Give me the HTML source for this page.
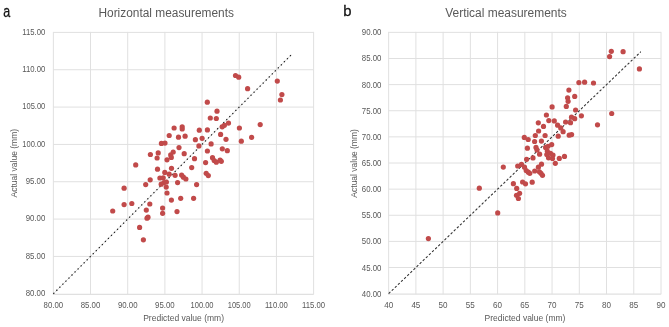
<!DOCTYPE html>
<html><head><meta charset="utf-8"><style>
html,body{margin:0;padding:0;background:#fff;}
body{width:669px;height:327px;overflow:hidden;}
svg{display:block;will-change:transform;}
</style></head><body>
<svg width="669" height="327" viewBox="0 0 669 327">
<rect width="669" height="327" fill="#fff"/>
<g stroke="#e0e0e0" stroke-width="1" fill="none">
<line x1="53.35" y1="31.9" x2="53.35" y2="294.35"/>
<line x1="90.53" y1="31.9" x2="90.53" y2="294.35"/>
<line x1="127.71" y1="31.9" x2="127.71" y2="294.35"/>
<line x1="164.89" y1="31.9" x2="164.89" y2="294.35"/>
<line x1="202.06" y1="31.9" x2="202.06" y2="294.35"/>
<line x1="239.24" y1="31.9" x2="239.24" y2="294.35"/>
<line x1="276.42" y1="31.9" x2="276.42" y2="294.35"/>
<line x1="313.6" y1="31.9" x2="313.6" y2="294.35"/>
<line x1="53.35" y1="32.4" x2="313.6" y2="32.4"/>
<line x1="53.35" y1="69.74" x2="313.6" y2="69.74"/>
<line x1="53.35" y1="107.07" x2="313.6" y2="107.07"/>
<line x1="53.35" y1="144.41" x2="313.6" y2="144.41"/>
<line x1="53.35" y1="181.74" x2="313.6" y2="181.74"/>
<line x1="53.35" y1="219.08" x2="313.6" y2="219.08"/>
<line x1="53.35" y1="256.41" x2="313.6" y2="256.41"/>
<line x1="52.85" y1="294.3" x2="313.7" y2="294.3" stroke-width="1.3"/>
<line x1="388.65" y1="31.85" x2="388.65" y2="294.25"/>
<line x1="415.88" y1="31.85" x2="415.88" y2="294.25"/>
<line x1="443.12" y1="31.85" x2="443.12" y2="294.25"/>
<line x1="470.36" y1="31.85" x2="470.36" y2="294.25"/>
<line x1="497.59" y1="31.85" x2="497.59" y2="294.25"/>
<line x1="524.83" y1="31.85" x2="524.83" y2="294.25"/>
<line x1="552.06" y1="31.85" x2="552.06" y2="294.25"/>
<line x1="579.3" y1="31.85" x2="579.3" y2="294.25"/>
<line x1="606.53" y1="31.85" x2="606.53" y2="294.25"/>
<line x1="633.76" y1="31.85" x2="633.76" y2="294.25"/>
<line x1="661" y1="31.85" x2="661" y2="294.25"/>
<line x1="388.65" y1="32.35" x2="661" y2="32.35"/>
<line x1="388.65" y1="58.48" x2="661" y2="58.48"/>
<line x1="388.65" y1="84.61" x2="661" y2="84.61"/>
<line x1="388.65" y1="110.74" x2="661" y2="110.74"/>
<line x1="388.65" y1="136.87" x2="661" y2="136.87"/>
<line x1="388.65" y1="163" x2="661" y2="163"/>
<line x1="388.65" y1="189.13" x2="661" y2="189.13"/>
<line x1="388.65" y1="215.26" x2="661" y2="215.26"/>
<line x1="388.65" y1="241.39" x2="661" y2="241.39"/>
<line x1="388.65" y1="267.52" x2="661" y2="267.52"/>
<line x1="388.15" y1="294.2" x2="661.1" y2="294.2" stroke-width="1.3"/>
</g>
<g stroke="#2a2a2a" fill="none">
<line x1="53.35" y1="293.75" x2="291.29" y2="54.8" stroke-width="0.7" stroke="#c8c8c8"/>
<line x1="53.35" y1="293.75" x2="291.29" y2="54.8" stroke-width="1.2" stroke="#1a1a1a" stroke-dasharray="1.3 3.0"/>
<line x1="388.65" y1="293.65" x2="640.85" y2="51.69" stroke-width="1.05" stroke="#2e2e2e" stroke-dasharray="2.4 1.9"/>
</g>
<g fill="#c14a4a">
<circle cx="235.5" cy="75.5" r="2.6"/>
<circle cx="238.7" cy="77.2" r="2.6"/>
<circle cx="247.6" cy="88.7" r="2.6"/>
<circle cx="277.3" cy="81.1" r="2.6"/>
<circle cx="281.9" cy="94.6" r="2.6"/>
<circle cx="280.4" cy="100.0" r="2.6"/>
<circle cx="207.3" cy="102.2" r="2.6"/>
<circle cx="217.0" cy="111.2" r="2.6"/>
<circle cx="210.3" cy="118.0" r="2.6"/>
<circle cx="216.3" cy="118.5" r="2.6"/>
<circle cx="228.5" cy="123.1" r="2.6"/>
<circle cx="224.4" cy="125.3" r="2.6"/>
<circle cx="222.2" cy="126.8" r="2.6"/>
<circle cx="260.2" cy="124.6" r="2.6"/>
<circle cx="239.4" cy="128.0" r="2.6"/>
<circle cx="174.1" cy="128.0" r="2.6"/>
<circle cx="182.2" cy="126.8" r="2.6"/>
<circle cx="182.2" cy="129.0" r="2.6"/>
<circle cx="199.3" cy="130.2" r="2.6"/>
<circle cx="207.4" cy="129.9" r="2.6"/>
<circle cx="169.2" cy="135.5" r="2.6"/>
<circle cx="178.5" cy="137.2" r="2.6"/>
<circle cx="185.1" cy="136.2" r="2.6"/>
<circle cx="220.6" cy="134.4" r="2.6"/>
<circle cx="251.6" cy="137.3" r="2.6"/>
<circle cx="195.4" cy="139.7" r="2.6"/>
<circle cx="202.1" cy="138.3" r="2.6"/>
<circle cx="226.0" cy="139.3" r="2.6"/>
<circle cx="241.3" cy="141.2" r="2.6"/>
<circle cx="161.4" cy="143.4" r="2.6"/>
<circle cx="165.0" cy="143.1" r="2.6"/>
<circle cx="198.9" cy="145.9" r="2.6"/>
<circle cx="211.1" cy="143.9" r="2.6"/>
<circle cx="179.0" cy="147.6" r="2.6"/>
<circle cx="207.4" cy="151.0" r="2.6"/>
<circle cx="222.3" cy="148.8" r="2.6"/>
<circle cx="227.3" cy="150.7" r="2.6"/>
<circle cx="150.4" cy="154.5" r="2.6"/>
<circle cx="158.2" cy="152.9" r="2.6"/>
<circle cx="173.2" cy="152.0" r="2.6"/>
<circle cx="170.7" cy="154.9" r="2.6"/>
<circle cx="171.3" cy="157.4" r="2.6"/>
<circle cx="184.2" cy="153.7" r="2.6"/>
<circle cx="157.1" cy="158.0" r="2.6"/>
<circle cx="167.0" cy="159.8" r="2.6"/>
<circle cx="194.5" cy="158.7" r="2.6"/>
<circle cx="212.5" cy="157.7" r="2.6"/>
<circle cx="214.2" cy="160.5" r="2.6"/>
<circle cx="216.3" cy="162.2" r="2.6"/>
<circle cx="220.1" cy="160.1" r="2.6"/>
<circle cx="221.3" cy="161.3" r="2.6"/>
<circle cx="205.6" cy="162.6" r="2.6"/>
<circle cx="135.7" cy="164.9" r="2.6"/>
<circle cx="157.5" cy="169.2" r="2.6"/>
<circle cx="171.5" cy="168.3" r="2.6"/>
<circle cx="191.7" cy="167.6" r="2.6"/>
<circle cx="164.8" cy="172.4" r="2.6"/>
<circle cx="169.2" cy="174.2" r="2.6"/>
<circle cx="175.1" cy="175.3" r="2.6"/>
<circle cx="181.6" cy="175.1" r="2.6"/>
<circle cx="183.4" cy="177.2" r="2.6"/>
<circle cx="185.9" cy="179.0" r="2.6"/>
<circle cx="159.9" cy="178.0" r="2.6"/>
<circle cx="163.2" cy="177.8" r="2.6"/>
<circle cx="150.2" cy="179.8" r="2.6"/>
<circle cx="161.2" cy="184.2" r="2.6"/>
<circle cx="164.0" cy="182.5" r="2.6"/>
<circle cx="166.4" cy="182.0" r="2.6"/>
<circle cx="177.6" cy="182.6" r="2.6"/>
<circle cx="145.7" cy="184.6" r="2.6"/>
<circle cx="196.6" cy="184.6" r="2.6"/>
<circle cx="166.2" cy="187.1" r="2.6"/>
<circle cx="124.1" cy="188.2" r="2.6"/>
<circle cx="167.0" cy="193.0" r="2.6"/>
<circle cx="171.4" cy="200.1" r="2.6"/>
<circle cx="180.7" cy="198.3" r="2.6"/>
<circle cx="193.6" cy="198.3" r="2.6"/>
<circle cx="124.1" cy="204.6" r="2.6"/>
<circle cx="131.8" cy="203.5" r="2.6"/>
<circle cx="149.8" cy="204.0" r="2.6"/>
<circle cx="162.6" cy="208.1" r="2.6"/>
<circle cx="162.6" cy="213.3" r="2.6"/>
<circle cx="177.0" cy="211.6" r="2.6"/>
<circle cx="112.7" cy="211.0" r="2.6"/>
<circle cx="146.3" cy="210.1" r="2.6"/>
<circle cx="147.0" cy="218.2" r="2.6"/>
<circle cx="148.0" cy="217.2" r="2.6"/>
<circle cx="139.6" cy="227.4" r="2.6"/>
<circle cx="143.4" cy="239.8" r="2.6"/>
<circle cx="206.2" cy="173.3" r="2.6"/>
<circle cx="208.3" cy="175.6" r="2.6"/>
<circle cx="611.3" cy="51.3" r="2.6"/>
<circle cx="623.1" cy="51.7" r="2.6"/>
<circle cx="609.6" cy="56.6" r="2.6"/>
<circle cx="639.4" cy="68.9" r="2.6"/>
<circle cx="578.9" cy="82.6" r="2.6"/>
<circle cx="584.6" cy="82.2" r="2.6"/>
<circle cx="593.5" cy="83.0" r="2.6"/>
<circle cx="568.9" cy="90.1" r="2.6"/>
<circle cx="574.7" cy="96.4" r="2.6"/>
<circle cx="567.6" cy="97.8" r="2.6"/>
<circle cx="568.1" cy="101.3" r="2.6"/>
<circle cx="566.3" cy="106.4" r="2.6"/>
<circle cx="552.1" cy="106.9" r="2.6"/>
<circle cx="575.6" cy="110.0" r="2.6"/>
<circle cx="546.4" cy="115.0" r="2.6"/>
<circle cx="581.4" cy="115.8" r="2.6"/>
<circle cx="611.7" cy="113.5" r="2.6"/>
<circle cx="571.5" cy="117.2" r="2.6"/>
<circle cx="574.7" cy="118.7" r="2.6"/>
<circle cx="597.5" cy="124.8" r="2.6"/>
<circle cx="538.3" cy="122.8" r="2.6"/>
<circle cx="548.8" cy="120.6" r="2.6"/>
<circle cx="554.3" cy="120.9" r="2.6"/>
<circle cx="565.6" cy="122.0" r="2.6"/>
<circle cx="570.5" cy="122.7" r="2.6"/>
<circle cx="543.5" cy="126.4" r="2.6"/>
<circle cx="557.6" cy="125.2" r="2.6"/>
<circle cx="560.7" cy="127.9" r="2.6"/>
<circle cx="563.1" cy="131.7" r="2.6"/>
<circle cx="538.6" cy="131.0" r="2.6"/>
<circle cx="535.3" cy="135.5" r="2.6"/>
<circle cx="545.1" cy="135.5" r="2.6"/>
<circle cx="558.2" cy="136.2" r="2.6"/>
<circle cx="569.2" cy="135.2" r="2.6"/>
<circle cx="571.6" cy="134.6" r="2.6"/>
<circle cx="524.3" cy="137.4" r="2.6"/>
<circle cx="528.2" cy="139.5" r="2.6"/>
<circle cx="534.6" cy="141.5" r="2.6"/>
<circle cx="541.4" cy="141.1" r="2.6"/>
<circle cx="551.7" cy="144.6" r="2.6"/>
<circle cx="527.4" cy="148.2" r="2.6"/>
<circle cx="536.0" cy="147.4" r="2.6"/>
<circle cx="537.0" cy="149.9" r="2.6"/>
<circle cx="545.6" cy="147.4" r="2.6"/>
<circle cx="548.0" cy="146.3" r="2.6"/>
<circle cx="547.3" cy="151.0" r="2.6"/>
<circle cx="546.8" cy="154.5" r="2.6"/>
<circle cx="550.5" cy="153.3" r="2.6"/>
<circle cx="553.0" cy="155.0" r="2.6"/>
<circle cx="548.5" cy="157.8" r="2.6"/>
<circle cx="552.5" cy="158.5" r="2.6"/>
<circle cx="539.6" cy="154.2" r="2.6"/>
<circle cx="533.0" cy="157.9" r="2.6"/>
<circle cx="526.6" cy="159.3" r="2.6"/>
<circle cx="559.3" cy="158.4" r="2.6"/>
<circle cx="564.5" cy="156.4" r="2.6"/>
<circle cx="555.3" cy="163.3" r="2.6"/>
<circle cx="541.5" cy="164.2" r="2.6"/>
<circle cx="538.4" cy="167.2" r="2.6"/>
<circle cx="534.7" cy="171.0" r="2.6"/>
<circle cx="539.4" cy="171.8" r="2.6"/>
<circle cx="541.0" cy="173.3" r="2.6"/>
<circle cx="542.5" cy="175.3" r="2.6"/>
<circle cx="517.7" cy="166.0" r="2.6"/>
<circle cx="521.5" cy="164.4" r="2.6"/>
<circle cx="524.5" cy="167.2" r="2.6"/>
<circle cx="526.2" cy="170.5" r="2.6"/>
<circle cx="528.3" cy="172.2" r="2.6"/>
<circle cx="529.8" cy="173.3" r="2.6"/>
<circle cx="503.3" cy="167.1" r="2.6"/>
<circle cx="513.4" cy="183.7" r="2.6"/>
<circle cx="522.6" cy="182.0" r="2.6"/>
<circle cx="525.5" cy="183.8" r="2.6"/>
<circle cx="532.2" cy="182.2" r="2.6"/>
<circle cx="516.7" cy="188.4" r="2.6"/>
<circle cx="519.6" cy="193.3" r="2.6"/>
<circle cx="516.5" cy="195.3" r="2.6"/>
<circle cx="518.4" cy="198.5" r="2.6"/>
<circle cx="479.3" cy="188.2" r="2.6"/>
<circle cx="497.7" cy="212.9" r="2.6"/>
<circle cx="428.4" cy="238.6" r="2.6"/>
</g>
<g font-family='"Liberation Sans", sans-serif' fill="#595959">
<text x="45.3" y="34.6" font-size="9" text-anchor="end" textLength="23.0" lengthAdjust="spacingAndGlyphs">115.00</text>
<text x="45.3" y="71.94" font-size="9" text-anchor="end" textLength="23.0" lengthAdjust="spacingAndGlyphs">110.00</text>
<text x="45.3" y="109.27" font-size="9" text-anchor="end" textLength="23.0" lengthAdjust="spacingAndGlyphs">105.00</text>
<text x="45.3" y="146.61" font-size="9" text-anchor="end" textLength="23.0" lengthAdjust="spacingAndGlyphs">100.00</text>
<text x="45.3" y="183.94" font-size="9" text-anchor="end" textLength="19.6" lengthAdjust="spacingAndGlyphs">95.00</text>
<text x="45.3" y="221.28" font-size="9" text-anchor="end" textLength="19.6" lengthAdjust="spacingAndGlyphs">90.00</text>
<text x="45.3" y="258.61" font-size="9" text-anchor="end" textLength="19.6" lengthAdjust="spacingAndGlyphs">85.00</text>
<text x="45.3" y="295.95" font-size="9" text-anchor="end" textLength="19.6" lengthAdjust="spacingAndGlyphs">80.00</text>
<text x="53.35" y="307.6" font-size="9" text-anchor="middle" textLength="19.6" lengthAdjust="spacingAndGlyphs">80.00</text>
<text x="90.53" y="307.6" font-size="9" text-anchor="middle" textLength="19.6" lengthAdjust="spacingAndGlyphs">85.00</text>
<text x="127.71" y="307.6" font-size="9" text-anchor="middle" textLength="19.6" lengthAdjust="spacingAndGlyphs">90.00</text>
<text x="164.89" y="307.6" font-size="9" text-anchor="middle" textLength="19.6" lengthAdjust="spacingAndGlyphs">95.00</text>
<text x="202.06" y="307.6" font-size="9" text-anchor="middle" textLength="23.0" lengthAdjust="spacingAndGlyphs">100.00</text>
<text x="239.24" y="307.6" font-size="9" text-anchor="middle" textLength="23.0" lengthAdjust="spacingAndGlyphs">105.00</text>
<text x="276.42" y="307.6" font-size="9" text-anchor="middle" textLength="23.0" lengthAdjust="spacingAndGlyphs">110.00</text>
<text x="313.6" y="307.6" font-size="9" text-anchor="middle" textLength="23.0" lengthAdjust="spacingAndGlyphs">115.00</text>
<text x="381.4" y="35.35" font-size="9" text-anchor="end" textLength="19.6" lengthAdjust="spacingAndGlyphs">90.00</text>
<text x="381.4" y="61.48" font-size="9" text-anchor="end" textLength="19.6" lengthAdjust="spacingAndGlyphs">85.00</text>
<text x="381.4" y="87.61" font-size="9" text-anchor="end" textLength="19.6" lengthAdjust="spacingAndGlyphs">80.00</text>
<text x="381.4" y="113.74" font-size="9" text-anchor="end" textLength="19.6" lengthAdjust="spacingAndGlyphs">75.00</text>
<text x="381.4" y="139.87" font-size="9" text-anchor="end" textLength="19.6" lengthAdjust="spacingAndGlyphs">70.00</text>
<text x="381.4" y="166" font-size="9" text-anchor="end" textLength="19.6" lengthAdjust="spacingAndGlyphs">65.00</text>
<text x="381.4" y="192.13" font-size="9" text-anchor="end" textLength="19.6" lengthAdjust="spacingAndGlyphs">60.00</text>
<text x="381.4" y="218.26" font-size="9" text-anchor="end" textLength="19.6" lengthAdjust="spacingAndGlyphs">55.00</text>
<text x="381.4" y="244.39" font-size="9" text-anchor="end" textLength="19.6" lengthAdjust="spacingAndGlyphs">50.00</text>
<text x="381.4" y="270.52" font-size="9" text-anchor="end" textLength="19.6" lengthAdjust="spacingAndGlyphs">45.00</text>
<text x="381.4" y="296.65" font-size="9" text-anchor="end" textLength="19.6" lengthAdjust="spacingAndGlyphs">40.00</text>
<text x="388.65" y="307.6" font-size="9" text-anchor="middle" textLength="9.0" lengthAdjust="spacingAndGlyphs">40</text>
<text x="415.88" y="307.6" font-size="9" text-anchor="middle" textLength="9.0" lengthAdjust="spacingAndGlyphs">45</text>
<text x="443.12" y="307.6" font-size="9" text-anchor="middle" textLength="9.0" lengthAdjust="spacingAndGlyphs">50</text>
<text x="470.36" y="307.6" font-size="9" text-anchor="middle" textLength="9.0" lengthAdjust="spacingAndGlyphs">55</text>
<text x="497.59" y="307.6" font-size="9" text-anchor="middle" textLength="9.0" lengthAdjust="spacingAndGlyphs">60</text>
<text x="524.83" y="307.6" font-size="9" text-anchor="middle" textLength="9.0" lengthAdjust="spacingAndGlyphs">65</text>
<text x="552.06" y="307.6" font-size="9" text-anchor="middle" textLength="9.0" lengthAdjust="spacingAndGlyphs">70</text>
<text x="579.3" y="307.6" font-size="9" text-anchor="middle" textLength="9.0" lengthAdjust="spacingAndGlyphs">75</text>
<text x="606.53" y="307.6" font-size="9" text-anchor="middle" textLength="9.0" lengthAdjust="spacingAndGlyphs">80</text>
<text x="633.76" y="307.6" font-size="9" text-anchor="middle" textLength="9.0" lengthAdjust="spacingAndGlyphs">85</text>
<text x="661" y="307.6" font-size="9" text-anchor="middle" textLength="9.0" lengthAdjust="spacingAndGlyphs">90</text>
<text x="183.6" y="321" font-size="8.5" text-anchor="middle">Predicted value (mm)</text>
<text x="525" y="321" font-size="8.5" text-anchor="middle">Predicted value (mm)</text>
<text transform="translate(17.1 163.2) rotate(-90)" font-size="8.5" text-anchor="middle">Actual value (mm)</text>
<text transform="translate(357.3 163.4) rotate(-90)" font-size="8.5" text-anchor="middle">Actual value (mm)</text>
<text x="166.2" y="17.2" font-size="12" text-anchor="middle" textLength="135.5" lengthAdjust="spacingAndGlyphs">Horizontal measurements</text>
<text x="506.0" y="17.2" font-size="12" text-anchor="middle" textLength="121.6" lengthAdjust="spacingAndGlyphs">Vertical measurements</text>
</g>
<g font-family='"Liberation Sans", sans-serif' fill="#111" stroke="#111" stroke-width="0.3" font-size="16.5">
<text transform="translate(3.3 16.5) scale(0.76 1)">a</text>
<text transform="translate(343.2 16.3) scale(0.9 0.93)">b</text>
</g>
</svg>
</body></html>
